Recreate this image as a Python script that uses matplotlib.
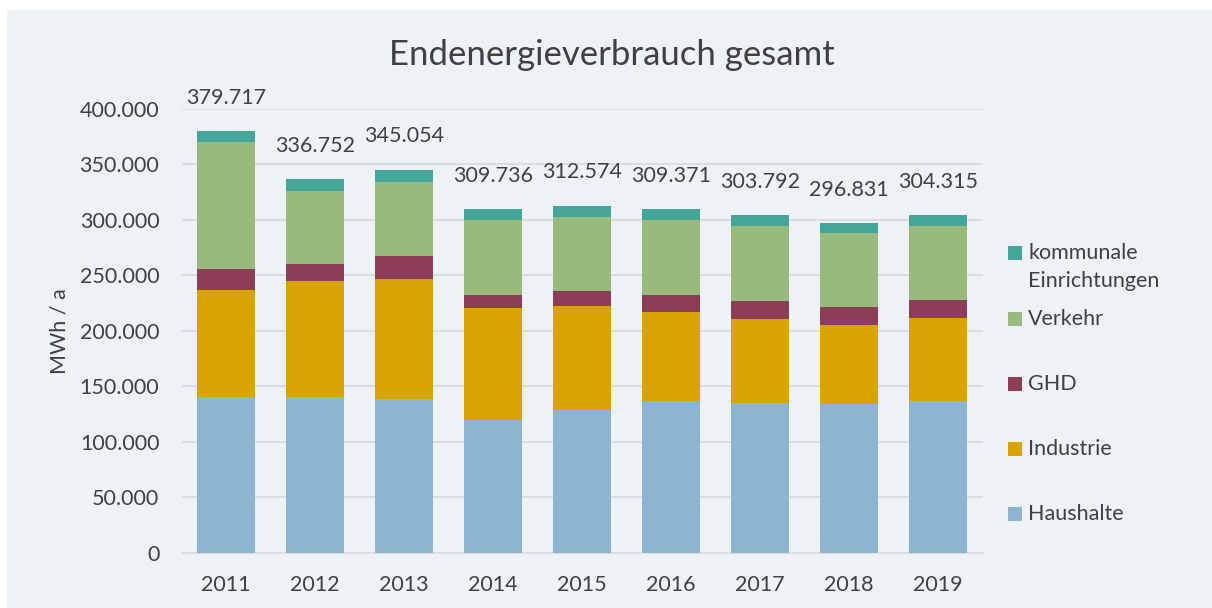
import matplotlib.pyplot as plt
from matplotlib.patches import Rectangle
import numpy as np

plt.rcParams['font.family'] = ['Lato', 'DejaVu Sans']

years = ['2011', '2012', '2013', '2014', '2015', '2016', '2017', '2018', '2019']
haushalte = [140270, 140000, 138470, 119550, 128290, 136940, 134870, 134230, 136400]
industrie = [96400, 104780, 108110, 100900, 93960, 79910, 75950, 71170, 75320]
ghd = [18920, 15050, 20990, 11980, 13240, 15590, 15950, 15680, 15950]
verkehr = [114140, 66030, 66400, 67300, 66670, 67030, 67570, 66670, 66940]
kommunal = [9987, 10892, 11084, 10006, 10414, 9901, 9452, 9081, 9705]
totals = [379717, 336752, 345054, 309736, 312574, 309371, 303792, 296831, 304315]

series = [
    ('Haushalte', haushalte, '#8db4d0'),
    ('Industrie', industrie, '#d9a300'),
    ('GHD', ghd, '#8b3e55'),
    ('Verkehr', verkehr, '#98bb7d'),
    ('kommunale\nEinrichtungen', kommunal, '#43a698'),
]

text_col = '#404040'
bg = '#eef2f6'
fs = 15.5

fig = plt.figure(figsize=(12.12, 6.08), dpi=100)
fig.patch.set_facecolor('white')
fig.add_artist(Rectangle((7 / 1212, 0), 1 - 7 / 1212, 1 - 10 / 608,
                         transform=fig.transFigure, facecolor=bg,
                         edgecolor='none', zorder=-10))

ax = fig.add_axes([0.1498, 0.0910, 0.6609, 0.7303])
ax.set_facecolor('none')

x = np.arange(len(years))
bottom = np.zeros(len(years))
for name, vals, col in series:
    ax.bar(x, vals, bottom=bottom, width=0.645, color=col, zorder=3)
    bottom += np.array(vals)

for xi, tot in zip(x, totals):
    lbl = f'{tot:,}'.replace(',', '.')
    ax.annotate(lbl, (xi, tot), xytext=(0, 24), textcoords='offset points',
                ha='center', va='center', fontsize=fs, color=text_col)

ax.set_xlim(-0.5, len(years) - 0.5)
ax.set_ylim(0, 400000)
yt = np.arange(0, 400001, 50000)
ax.set_yticks(yt)
ax.set_yticklabels(['0' if v == 0 else f'{v:,}'.replace(',', '.') for v in yt])
ax.set_xticks(x)
ax.set_xticklabels(years)
ax.tick_params(axis='both', length=0, labelsize=fs, labelcolor=text_col)
ax.tick_params(axis='y', pad=16)
ax.tick_params(axis='x', pad=16)
ax.grid(axis='y', color='#dcdcdc', linewidth=1.5, zorder=0)
for s in ['top', 'right', 'left']:
    ax.spines[s].set_visible(False)
ax.spines['bottom'].set_color('#dcdcdc')
ax.spines['bottom'].set_linewidth(1.5)

ax.set_ylabel('MWh / a', fontsize=fs, color=text_col)
ax.yaxis.set_label_coords(-0.14, 0.5)

fig.text(0.505, 0.9095, 'Endenergieverbrauch gesamt', ha='center', va='center',
         fontsize=25, color=text_col)

# manual legend, top to bottom
leg_y = [253, 319, 384, 449, 514]
for (name, vals, col), yp in zip(series[::-1], leg_y):
    fy = 1 - yp / 608
    fig.add_artist(Rectangle((1008 / 1212, fy - 7 / 608), 14 / 1212, 14 / 608,
                             transform=fig.transFigure, facecolor=col,
                             edgecolor='none'))
    for i, line in enumerate(name.split('\n')):
        fig.text(1028 / 1212, 1 - (yp + 28 * i) / 608, line, ha='left',
                 va='center', fontsize=fs, color=text_col)

fig.savefig('out.png', dpi=100, facecolor=fig.get_facecolor())
